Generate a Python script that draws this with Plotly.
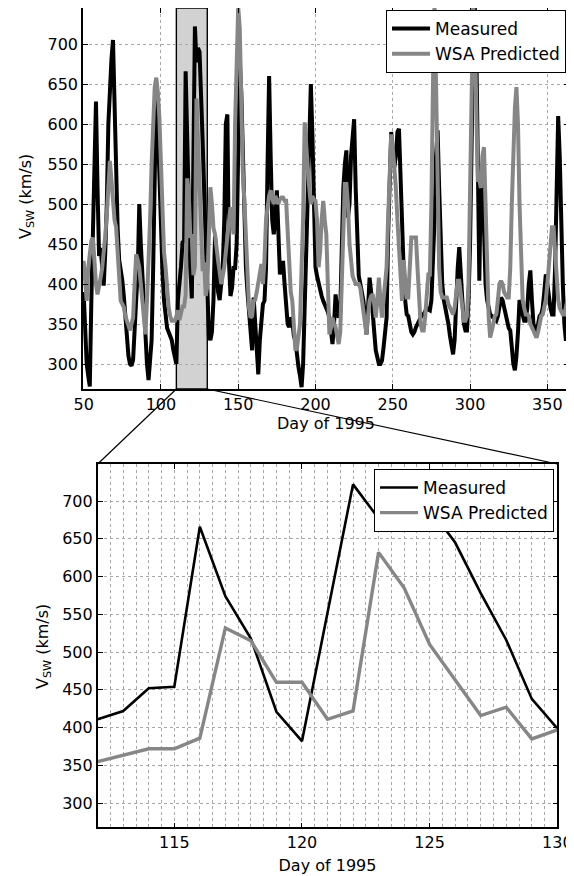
import plotly.graph_objects as go

# ---------------- data ----------------
top_start_day = 50
measured_daily = [
    390, 340, 300, 285, 272, 380, 455, 560, 628, 520,   # 50
    435, 445, 420, 398, 440, 500, 600, 655, 680, 705,   # 60
    620, 530, 470, 430, 420, 405, 385, 355, 330, 310,   # 70
    300, 298, 305, 335, 380, 415, 500, 450, 410, 370,   # 80
    330, 300, 280, 300, 330, 420, 550, 645, 600, 530,   # 90
    480, 415, 380, 360, 345, 340, 335, 330, 318, 305,   # 100
    300, 380, 411, 422, 452, 454, 666, 574, 518, 421,   # 110
    382, 553, 722, 677, 695, 690, 645, 578, 516, 438,   # 120
    399, 335, 330, 340, 380, 460, 420, 390, 380, 400,   # 130
    420, 480, 600, 612, 430, 385, 395, 420, 420, 450,   # 140
    560, 680, 640, 560, 470, 420, 390, 360, 330, 317,   # 150
    383, 350, 300, 287, 330, 360, 375, 379, 420, 550,   # 160
    660, 560, 480, 462, 480, 517, 450, 412, 420, 429,   # 170
    400, 379, 350, 346, 358, 355, 335, 329, 310, 296,   # 180
    285, 271, 300, 379, 450, 540, 620, 650, 587, 480,   # 190
    421, 410, 400, 390, 385, 379, 375, 371, 365, 358,   # 200
    345, 325, 350, 387, 370, 358, 365, 450, 520, 550,   # 210
    567, 483, 500, 560, 580, 606, 520, 460, 410, 400,   # 220
    390, 379, 360, 337, 370, 408, 390, 358, 340, 317,   # 230
    310, 300, 300, 304, 320, 340, 358, 462, 540, 590,   # 240
    560, 546, 560, 590, 594, 520, 462, 420, 380, 362,   # 250
    360, 350, 340, 337, 340, 346, 350, 355, 360, 362,   # 260
    362, 365, 370, 368, 367, 380, 420, 480, 560, 592,   # 270
    520, 440, 400, 380, 370, 362, 350, 335, 320, 312,   # 280
    330, 380, 420, 446, 420, 380, 350, 342, 342, 380,   # 290
    450, 600, 700, 750, 700, 554, 404, 540, 542, 470,   # 300
    400, 380, 370, 362, 360, 358, 356, 354, 360, 370,   # 310
    383, 380, 370, 360, 350, 345, 342, 320, 300, 292,   # 320
    310, 340, 380, 370, 360, 354, 354, 370, 400, 417,   # 330
    380, 350, 342, 342, 350, 360, 362, 370, 390, 412,   # 340
    400, 380, 370, 362, 362, 420, 540, 610, 560, 460,   # 350
    400, 350, 329, 340, 360,                            # 360
]
wsa_daily = [
    429, 400, 379, 420, 440, 454, 458, 420, 400, 387,   # 50
    395, 408, 420, 437, 460, 487, 520, 554, 530, 504,   # 60
    480, 471, 440, 400, 379, 375, 371, 360, 354, 348,   # 70
    342, 350, 358, 400, 437, 430, 421, 400, 379, 360,   # 80
    337, 380, 421, 480, 550, 600, 646, 658, 640, 608,   # 90
    540, 500, 440, 421, 390, 371, 360, 354, 354, 354,   # 100
    360, 367, 355, 363, 372, 372, 386, 532, 515, 460,   # 110
    460, 411, 422, 632, 585, 510, 463, 416, 427, 385,   # 120
    397, 480, 521, 500, 470, 462, 440, 429, 415, 400,   # 130
    410, 421, 440, 462, 480, 496, 480, 462, 600, 700,   # 140
    746, 720, 620, 540, 504, 460, 400, 370, 358, 360,   # 150
    379, 380, 390, 400, 410, 425, 400, 430, 480, 500,   # 160
    510, 517, 505, 500, 510, 505, 500, 506, 508, 508,   # 170
    504, 504, 460, 421, 390, 379, 340, 317, 320, 337,   # 180
    350, 420, 483, 602, 580, 546, 520, 500, 510, 505,   # 190
    504, 480, 421, 440, 480, 504, 480, 462, 400, 337,   # 200
    345, 358, 350, 346, 335, 325, 340, 400, 480, 525,   # 210
    525, 500, 450, 421, 410, 405, 400, 400, 400, 395,   # 220
    379, 370, 350, 337, 360, 379, 385, 387, 375, 358,   # 230
    380, 408, 380, 358, 380, 400, 421, 483, 540, 587,   # 240
    570, 546, 520, 480, 440, 400, 379, 430, 400, 383,   # 250
    383, 420, 458, 458, 458, 458, 420, 380, 350, 342,   # 260
    342, 360, 390, 412, 412, 500, 650, 750, 650, 500,   # 270
    420, 390, 383, 383, 383, 383, 375, 370, 365, 362,   # 280
    370, 385, 404, 404, 390, 370, 354, 354, 360, 400,   # 290
    500, 650, 750, 720, 600, 530, 530, 520, 560, 571,   # 300
    500, 420, 360, 333, 340, 350, 360, 362, 380, 400,   # 310
    404, 400, 390, 385, 383, 383, 420, 500, 580, 620,   # 320
    646, 600, 500, 420, 380, 370, 362, 362, 360, 350,   # 330
    345, 340, 335, 333, 340, 350, 360, 362, 370, 380,   # 340
    400, 430, 460, 471, 471, 440, 400, 380, 370, 365,   # 350
    362, 362, 370, 380, 400,                            # 360
]
top_days = list(range(top_start_day, top_start_day + len(measured_daily)))

zoom_days = list(range(112, 131))
zoom_measured = [411, 422, 452, 454, 666, 574, 518, 421, 382, 553,
                 722, 677, 695, 690, 645, 578, 516, 438, 399]
zoom_wsa = [355, 363, 372, 372, 386, 532, 515, 460, 460, 411,
            422, 632, 585, 510, 463, 416, 427, 385, 397]

highlight_window = [110, 130]
top_xrange = [49.6, 364]
top_yrange = [268.75, 745]
zoom_xrange = [112, 130]
zoom_yrange = [268, 749]

# ---------------- layout geometry (target pixels in the 574x876 window) ----------------
W, H = 574, 876
OFF = 8  # the page body has an 8px margin, so the figure starts at (8, 8)
top_px = dict(x0=83, x1=569, y0=8, y1=389)
bot_px = dict(x0=97.7, x1=557.3, y0=464, y1=827.3)


def px(x):
    return (x - OFF) / W


def py(y):
    return 1 - (y - OFF) / H


def xd(p):
    return [px(p["x0"]), px(p["x1"])]


def yd(p):
    return [py(p["y1"]), py(p["y0"])]


FONT = "DejaVu Sans, Arial, Helvetica, sans-serif"
FS = 16
BLACK = "#000000"
GRAY = "#868686"
GRID = "#a8a8a8"

fig = go.Figure()
fig.add_trace(go.Scatter(x=top_days, y=measured_daily, mode="lines", name="Measured",
                         line=dict(color=BLACK, width=4), xaxis="x", yaxis="y",
                         legend="legend"))
fig.add_trace(go.Scatter(x=top_days, y=wsa_daily, mode="lines", name="WSA Predicted",
                         line=dict(color=GRAY, width=4), xaxis="x", yaxis="y",
                         legend="legend"))
fig.add_trace(go.Scatter(x=zoom_days, y=zoom_measured, mode="lines", name="Measured",
                         line=dict(color=BLACK, width=2.6), xaxis="x2", yaxis="y2",
                         legend="legend2"))
fig.add_trace(go.Scatter(x=zoom_days, y=zoom_wsa, mode="lines", name="WSA Predicted",
                         line=dict(color=GRAY, width=3.4), xaxis="x2", yaxis="y2",
                         legend="legend2"))

axis_common = dict(
    showline=True, linecolor=BLACK, linewidth=1.6, mirror="allticks",
    ticks="inside", ticklen=5, tickcolor=BLACK, tickwidth=1,
    showgrid=True, gridcolor=GRID, griddash="dot", gridwidth=1,
    zeroline=False, automargin=False,
    tickfont=dict(family=FONT, size=FS, color=BLACK),
)

legend_common = dict(xanchor="right", yanchor="top",
                     bgcolor="white", bordercolor=BLACK, borderwidth=1,
                     font=dict(family=FONT, size=17, color=BLACK),
                     tracegroupgap=0, itemwidth=38)

fig.update_layout(
    width=W, height=H,
    margin=dict(l=0, r=0, t=0, b=0),
    paper_bgcolor="white", plot_bgcolor="white",
    font=dict(family=FONT, size=FS, color=BLACK),
    xaxis=dict(axis_common, domain=xd(top_px), range=top_xrange, dtick=50, tick0=0,
               anchor="y",
               title=dict(text="Day of 1995", standoff=5, font=dict(size=FS))),
    yaxis=dict(axis_common, domain=yd(top_px), range=top_yrange, dtick=50, tick0=0,
               anchor="x"),
    xaxis2=dict(axis_common, domain=xd(bot_px), range=zoom_xrange, dtick=5, tick0=0,
                anchor="y2",
                minor=dict(dtick=0.5, showgrid=True, gridcolor=GRID,
                           griddash="dot", gridwidth=1),
                title=dict(text="Day of 1995", standoff=9, font=dict(size=FS))),
    yaxis2=dict(axis_common, domain=yd(bot_px), range=zoom_yrange, dtick=50, tick0=0,
                anchor="x2"),
    legend=dict(legend_common, x=px(566), y=py(10)),
    legend2=dict(legend_common, x=px(554), y=py(469)),
    showlegend=True,
)

# y-axis titles as rotated annotations
fig.add_annotation(text="V<sub>SW</sub> (km/s)", xref="paper", yref="paper",
                   x=px(27), y=py(197), textangle=-90, showarrow=False,
                   font=dict(family=FONT, size=FS), xanchor="center", yanchor="middle")
fig.add_annotation(text="V<sub>SW</sub> (km/s)", xref="paper", yref="paper",
                   x=px(43), y=py(647), textangle=-90, showarrow=False,
                   font=dict(family=FONT, size=FS), xanchor="center", yanchor="middle")

# highlighted window in top panel
fig.add_shape(type="rect", xref="x", yref="y domain",
              x0=highlight_window[0], x1=highlight_window[1], y0=0, y1=1,
              fillcolor="#d2d2d2", line=dict(color=BLACK, width=1.4), layer="below")


def top_x_to_px(d):
    return top_px["x0"] + (d - top_xrange[0]) / (top_xrange[1] - top_xrange[0]) * (
        top_px["x1"] - top_px["x0"])


# connector lines from highlighted window to zoom panel
fig.add_shape(type="line", xref="paper", yref="paper",
              x0=px(top_x_to_px(highlight_window[0])), y0=py(top_px["y1"]),
              x1=px(bot_px["x0"]), y1=py(bot_px["y0"]),
              line=dict(color=BLACK, width=1.2))
fig.add_shape(type="line", xref="paper", yref="paper",
              x0=px(top_x_to_px(highlight_window[1])), y0=py(top_px["y1"]),
              x1=px(bot_px["x1"]), y1=py(bot_px["y0"]),
              line=dict(color=BLACK, width=1.2))

fig.write_html("out.html")
